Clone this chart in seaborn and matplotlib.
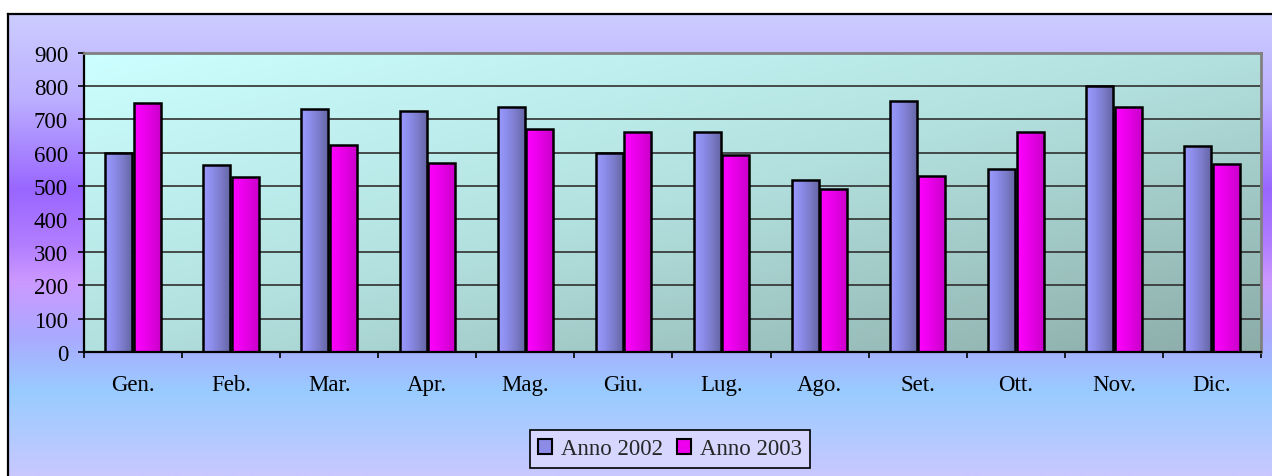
import numpy as np
import pandas as pd
import matplotlib
matplotlib.use("Agg")
import matplotlib.pyplot as plt
from matplotlib.colors import LinearSegmentedColormap, to_rgb
from matplotlib.patches import Patch
import seaborn as sns

mesi = ["Gen.", "Feb.", "Mar.", "Apr.", "Mag.", "Giu.", "Lug.", "Ago.",
        "Set.", "Ott.", "Nov.", "Dic."]
anno_2002 = [600, 562, 731, 724, 736, 599, 663, 518, 754, 549, 802, 621]
anno_2003 = [748, 525, 622, 568, 670, 663, 592, 489, 530, 663, 736, 567]
serie = ["Anno 2002", "Anno 2003"]

df = pd.DataFrame({
    "mese": mesi * 2,
    "valore": anno_2002 + anno_2003,
    "serie": [serie[0]] * 12 + [serie[1]] * 12,
})

sns.set_style("white")
plt.rcParams["font.family"] = ["Liberation Serif", "DejaVu Serif"]

W, H = 1272, 477
fig = plt.figure(figsize=(W / 100, H / 100), dpi=100)
fig.patch.set_facecolor("white")

# outer chart area with vertical gradient
bg = fig.add_axes([8 / W, 0, 1 - 8 / W, 1 - 15 / H], zorder=0)
stops = [(0.0, "#CCCCFF"), (0.18, "#BCB0FF"), (0.38, "#9966FF"),
         (0.50, "#B27EFF"), (0.58, "#CC99FF"), (0.70, "#AAAAFF"),
         (0.82, "#99CCFF"), (1.0, "#C8C8FF")]
cm_bg = LinearSegmentedColormap.from_list("bg", stops)
bg.imshow(np.linspace(0, 1, 256).reshape(-1, 1), cmap=cm_bg, aspect="auto",
          extent=[0, 1, 0, 1])
bg.set_xlim(0, 1)
bg.set_ylim(0, 1)
bg.set_xticks([])
bg.set_yticks([])
for s in ["right", "bottom"]:
    bg.spines[s].set_visible(False)
for s in ["top", "left"]:
    bg.spines[s].set_color("black")
    bg.spines[s].set_linewidth(1.6)

# plot area
ax = fig.add_axes([84 / W, 1 - 352.7 / H, (1261 - 84) / W, (352.7 - 54) / H], zorder=1)
ax.patch.set_alpha(0)

u, v = np.meshgrid(np.linspace(0, 1, 200), np.linspace(0, 1, 100))
t = (u + v) / 2
cm_plot = LinearSegmentedColormap.from_list(
    "pa", [(0, "#CCFFFF"), (0.5, "#B2E0DE"), (1, "#8CACA8")])
ax.imshow(t, cmap=cm_plot, aspect="auto", extent=[0, 1, 0, 1],
          transform=ax.transAxes, zorder=-2)

sns.barplot(data=df, x="mese", y="valore", hue="serie", order=mesi,
            hue_order=serie, palette=["#8080E0", "#EE00EE"], width=0.58,
            gap=0.05, edgecolor="black", linewidth=1.8, legend=False, ax=ax)

grads = [["#9A9AFF", "#8C8CEA", "#7A7AC8", "#6464A2"],
         ["#FF00FF", "#F000F0", "#DD00DD", "#C800C8"]]
for cont, cols in zip(ax.containers, grads):
    cmap = LinearSegmentedColormap.from_list("b", cols)
    for p in cont.patches:
        x0, w, h = p.get_x(), p.get_width(), p.get_height()
        im = ax.imshow(np.linspace(0, 1, 64).reshape(1, -1), cmap=cmap,
                       aspect="auto", extent=[x0, x0 + w, 0, h], zorder=2)
        im.set_clip_path(p)
        p.set_facecolor("none")
        p.set_zorder(3)

ax.set_xlim(-0.5, 11.5)
ax.set_ylim(0, 900)
ax.set_yticks(range(0, 901, 100))
ax.yaxis.grid(True, color="#303030", linewidth=1.2)
ax.set_axisbelow(True)
ax.set_xlabel("")
ax.set_ylabel("")

ax.set_xticks(range(12))
ax.set_xticklabels(mesi)
ax.set_xticks(np.arange(-0.5, 12, 1), minor=True)
ax.tick_params(axis="x", which="major", length=0, pad=16, labelsize=16.5,
               colors="black")
ax.tick_params(axis="x", which="minor", length=4.5, width=1.2, direction="out",
               bottom=True, color="black")
ax.tick_params(axis="y", length=4.5, width=1.2, direction="out", left=True,
               pad=7, labelsize=16.5, colors="black")

for s in ["left", "bottom"]:
    ax.spines[s].set_color("black")
    ax.spines[s].set_linewidth(1.6)
for s in ["top", "right"]:
    ax.spines[s].set_color("#808080")
    ax.spines[s].set_linewidth(2)

handles = [Patch(facecolor="#8C8CE8", edgecolor="black", linewidth=1.5),
           Patch(facecolor="#EE00EE", edgecolor="black", linewidth=1.5)]
leg = fig.legend(handles, serie, loc="center", bbox_to_anchor=(670 / W, 1 - 450 / H),
                 ncol=2, fontsize=16.5, frameon=True, fancybox=False,
                 edgecolor="black", facecolor="#D6D6FF", framealpha=1,
                 handlelength=0.6, handleheight=0.6, handletextpad=0.4,
                 columnspacing=0.6, borderpad=0.35, borderaxespad=0)
leg.get_frame().set_linewidth(1.2)

fig.savefig("out.png", dpi=100)
